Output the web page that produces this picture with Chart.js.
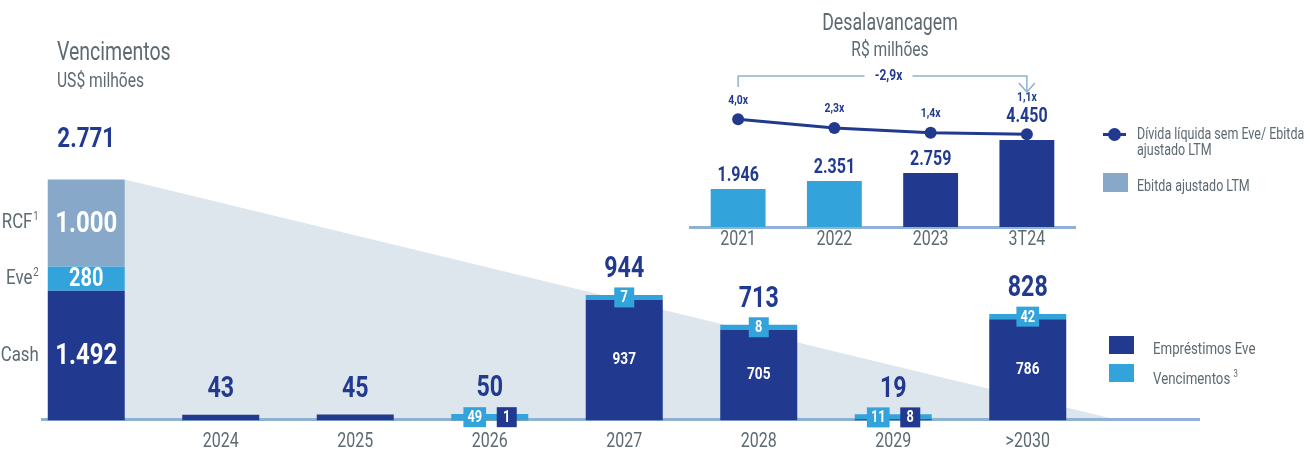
<!DOCTYPE html>
<html lang="pt-BR">
<head>
<meta charset="utf-8">
<title>Vencimentos e Desalavancagem</title>
<script src="https://cdn.jsdelivr.net/npm/chart.js@4.4.1/dist/chart.umd.min.js"></script>
<style>
  body { margin: 0; background: #fff; width: 1310px; height: 450px; overflow: hidden; position: relative;
         font-family: Roboto, 'Liberation Sans', sans-serif; color: #5d6a72; }
  canvas { position: absolute; top: 0; }
  #principal { left: 0; }
  #inset { left: 680px; }
  .txt { position: absolute; white-space: nowrap; transform: scaleX(0.78); transform-origin: 0 50%; }
  .meio { text-align: center; transform-origin: 50% 50%; }
  .quad { position: absolute; }
</style>
</head>
<body>
<canvas id="principal" width="1310" height="462"></canvas>
<canvas id="inset" width="420" height="255"></canvas>

<div class="txt" style="left:57px; top:37px; font-size:25px; line-height:30px;">Vencimentos</div>
<div class="txt" style="left:57px; top:68px; font-size:20px; line-height:24px;">US$ milhões</div>

<div class="txt meio" style="left:740px; width:300px; top:8px; font-size:24px; line-height:28px; transform: scaleX(0.74);">Desalavancagem</div>
<div class="txt meio" style="left:740px; width:300px; top:37px; font-size:20px; line-height:24px;">R$ milhões</div>

<!-- legenda do quadro de desalavancagem -->
<div class="quad" style="left:1103px; top:133px; width:23px; height:3px; background:#213a8f;"></div>
<div class="quad" style="left:1108px; top:128px; width:13px; height:13px; border-radius:50%; background:#213a8f;"></div>
<div class="txt" style="left:1137px; top:126px; font-size:16px; line-height:16px;">Dívida líquida sem Eve/ Ebitda<br>ajustado LTM</div>
<div class="quad" style="left:1103px; top:173px; width:25px; height:19px; background:#87a8c8;"></div>
<div class="txt" style="left:1137px; top:177px; font-size:16px; line-height:18px;">Ebitda ajustado LTM</div>

<!-- legenda dos vencimentos -->
<div class="quad" style="left:1109px; top:336px; width:25px; height:18px; background:#213a8f;"></div>
<div class="txt" style="left:1153px; top:339px; font-size:17px; line-height:18px;">Empréstimos Eve</div>
<div class="quad" style="left:1109px; top:364px; width:25px; height:18px; background:#33a3db;"></div>
<div class="txt" style="left:1153px; top:365px; font-size:17px; line-height:18px;">Vencimentos <sup style="font-size:10px;">3</sup></div>

<script>
// Vencimentos (US$ milhões)
const anos = ['', '2024', '2025', '2026', '2027', '2028', '2029', '>2030'];
const emprestimosEve = [null, 43, 45, 1, 937, 705, 8, 786];
const vencimentos = [null, null, null, 49, 7, 8, 11, 42];

// primeira barra: liquidez
const caixaRotulos = ['Cash', 'Eve²', 'RCF¹'];
const caixaValores = [1492, 280, 1000];
const caixaTotal = 2771;

// Desalavancagem (R$ milhões)
const periodos = ['2021', '2022', '2023', '3T24'];
const ebitda = [1946, 2351, 2759, 4450];
const alavancagem = [4.0, 2.3, 1.4, 1.1];
const variacao = -2.9;

const FONTE = "Roboto, 'Liberation Sans', sans-serif";
const ESTREITO = 0.8;   // a fonte original é condensada
const AZUL = '#213a8f';
const CLARO = '#33a3db';
const RCF = '#87a8c8';
const CINZA = '#5d6a72';
const LINHA = '#8fb2d2';
const SOMBRA = '#dde6ed';
const INVISIVEL = 'rgba(0,0,0,0)';
const SOBRESCRITO = { '¹': '1', '²': '2', '³': '3' };

Chart.defaults.font.family = FONTE;
Chart.defaults.color = CINZA;

function milhar(v) {
    return String(v).replace(/\B(?=(\d{3})+(?!\d))/g, '.');
}

function vezes(v) {
    return v.toFixed(1).replace('.', ',') + 'x';
}

function texto(ctx, s, x, y, cor, tam, peso, alinh) {
    ctx.save();
    ctx.font = (peso || 'bold') + ' ' + tam + 'px ' + FONTE;
    ctx.fillStyle = cor;
    ctx.textAlign = alinh || 'center';
    ctx.textBaseline = 'middle';
    ctx.translate(x, y);
    ctx.scale(ESTREITO, 1);
    ctx.fillText(s, 0, 0);
    ctx.restore();
}

// rótulo alinhado à direita com nota sobrescrita menor
function rotuloNota(ctx, s, x, y) {
    const nota = SOBRESCRITO[s.slice(-1)];
    if (!nota) {
        texto(ctx, s, x, y, CINZA, 21, 'normal', 'right');
        return;
    }
    ctx.save();
    ctx.font = 'normal 12px ' + FONTE;
    const w = ctx.measureText(nota).width * ESTREITO;
    ctx.restore();
    texto(ctx, nota, x, y - 6, CINZA, 12, 'normal', 'right');
    texto(ctx, s.slice(0, -1), x - w - 1, y, CINZA, 21, 'normal', 'right');
}

function caixa(ctx, s, x, y, cor) {
    ctx.save();
    ctx.font = 'bold 16px ' + FONTE;
    const w = Math.max(20, ctx.measureText(s).width * ESTREITO + 8);
    ctx.fillStyle = cor;
    ctx.fillRect(x - w / 2, y - 10, w, 20);
    ctx.restore();
    texto(ctx, s, x, y + 1, '#fff', 16);
}

// rótulos do eixo x (posições da escala, fonte condensada)
function rotulosEixo(chart, desce, tam) {
    const esc = chart.scales.x;
    esc.ticks.forEach((t, i) => {
        texto(chart.ctx, t.label, esc.getPixelForTick(i), chart.chartArea.bottom + desce, CINZA, tam, 'normal');
    });
}

// triângulo de fundo e linha base
const sombraPlugin = {
    id: 'sombra',
    beforeDatasetsDraw(chart) {
        const ctx = chart.ctx;
        const area = chart.chartArea;
        const topo = chart.getDatasetMeta(2).data[0];
        const base = chart.scales.y.getPixelForValue(0);
        const xDir = topo.x + topo.width / 2;
        ctx.save();
        ctx.fillStyle = SOMBRA;
        ctx.beginPath();
        ctx.moveTo(xDir, topo.y);
        ctx.lineTo(area.right + 25, base);
        ctx.lineTo(xDir, base);
        ctx.closePath();
        ctx.fill();
        ctx.strokeStyle = LINHA;
        ctx.lineWidth = 3;
        ctx.beginPath();
        ctx.moveTo(area.left + 22, base - 1);
        ctx.lineTo(chart.width - 110, base - 1);
        ctx.stroke();
        ctx.restore();
    }
};

// rótulos das barras de vencimento
const rotulosPlugin = {
    id: 'rotulos',
    afterDatasetsDraw(chart) {
        const ctx = chart.ctx;
        const segs = [0, 1, 2].map(i => chart.getDatasetMeta(i).data[0]);
        segs.forEach((el, k) => {
            const meio = (el.y + el.base) / 2;
            texto(ctx, milhar(caixaValores[k]), el.x, meio + 1, '#fff', k === 1 ? 25 : 30);
            rotuloNota(ctx, caixaRotulos[k], el.x - el.width / 2 - 9, meio);
        });
        texto(ctx, milhar(caixaTotal), segs[0].x, segs[2].y - 40, AZUL, 28);

        for (let i = 1; i < anos.length; i++) {
            const eA = chart.getDatasetMeta(3).data[i];
            const eC = chart.getDatasetMeta(4).data[i];
            const a = emprestimosEve[i];
            const c = vencimentos[i];
            const temC = c !== null;
            const topo = temC ? eC.y : eA.y;
            texto(ctx, milhar(a + (c || 0)), eA.x, topo - 25, AZUL, 29);
            if (!temC) continue;
            if (a >= 100) {
                texto(ctx, milhar(a), eA.x, (eA.y + eA.base) / 2, '#fff', 17);
                caixa(ctx, milhar(c), eC.x, (eC.y + eC.base) / 2, CLARO);
            } else {
                const y = (eC.y + eA.base) / 2;
                caixa(ctx, milhar(c), eA.x - 15, y, CLARO);
                caixa(ctx, milhar(a), eA.x + 17, y, AZUL);
            }
        }
        rotulosEixo(chart, 22, 20);
    }
};

// rótulos e chave do quadro de desalavancagem
const insetPlugin = {
    id: 'desalav',
    afterDatasetsDraw(chart) {
        const ctx = chart.ctx;
        const barras = chart.getDatasetMeta(0).data;
        const pontos = chart.getDatasetMeta(1).data;
        barras.forEach((el, i) => {
            const p = pontos[i];
            let yValor = el.y - 13;
            let yRazao = p.y - 19;
            if (el.y - p.y < 20) {
                yValor = p.y - 17;
                yRazao = yValor - 20;
            }
            texto(ctx, milhar(ebitda[i]), el.x, yValor, AZUL, 20);
            texto(ctx, vezes(alavancagem[i]), p.x, yRazao, AZUL, 13);
        });

        const x0 = pontos[0].x;
        const x1 = pontos[pontos.length - 1].x;
        const meio = (x0 + x1) / 2 + 6;
        const yb = chart.chartArea.top - 24;
        ctx.save();
        ctx.strokeStyle = LINHA;
        ctx.lineWidth = 1.5;
        ctx.beginPath();
        ctx.moveTo(x0, yb + 11);
        ctx.lineTo(x0, yb);
        ctx.lineTo(meio - 24, yb);
        ctx.moveTo(meio + 24, yb);
        ctx.lineTo(x1, yb);
        ctx.lineTo(x1, yb + 16);
        ctx.moveTo(x1 - 8, yb + 7);
        ctx.lineTo(x1, yb + 16);
        ctx.lineTo(x1 + 8, yb + 7);
        ctx.stroke();
        ctx.restore();
        texto(ctx, vezes(variacao), meio, yb, AZUL, 15);
        rotulosEixo(chart, 13, 20);
    }
};

const soPrimeira = v => anos.map((_, i) => (i === 0 ? v : null));

new Chart(document.getElementById('principal'), {
    type: 'bar',
    data: {
        labels: anos,
        datasets: [
            { label: caixaRotulos[0], data: soPrimeira(caixaValores[0]), backgroundColor: AZUL, yAxisID: 'y2', stack: 'caixa' },
            { label: caixaRotulos[1], data: soPrimeira(caixaValores[1]), backgroundColor: CLARO, yAxisID: 'y2', stack: 'caixa' },
            { label: caixaRotulos[2], data: soPrimeira(caixaValores[2]), backgroundColor: RCF, yAxisID: 'y2', stack: 'caixa' },
            { label: 'Empréstimos Eve', data: emprestimosEve, backgroundColor: AZUL, stack: 'venc' },
            { label: 'Vencimentos', data: vencimentos, backgroundColor: CLARO, stack: 'venc', minBarLength: 5 }
        ]
    },
    options: {
        responsive: false,
        animation: false,
        devicePixelRatio: 1,
        datasets: { bar: { grouped: false, barPercentage: 0.5725, categoryPercentage: 1 } },
        layout: { padding: { left: 19, right: 215, top: 99, bottom: 0 } },
        plugins: { legend: { display: false }, tooltip: { enabled: false } },
        scales: {
            x: {
                stacked: true,
                grid: { display: false, drawTicks: false },
                border: { display: false },
                ticks: { color: INVISIVEL, font: { size: 18 }, padding: 10 }
            },
            y: { display: false, stacked: true, min: 0, max: 2500 },
            y2: { display: false, stacked: true, min: 0, max: 3700 }
        }
    },
    plugins: [sombraPlugin, rotulosPlugin]
});

new Chart(document.getElementById('inset'), {
    data: {
        labels: periodos,
        datasets: [
            { type: 'bar', label: 'Ebitda ajustado LTM', data: ebitda, backgroundColor: [CLARO, CLARO, AZUL, AZUL],
              barPercentage: 0.57, categoryPercentage: 1, order: 2 },
            { type: 'line', label: 'Dívida líquida sem Eve/ Ebitda ajustado LTM', data: alavancagem, yAxisID: 'y2',
              borderColor: AZUL, borderWidth: 3, pointRadius: 6, pointBackgroundColor: AZUL, pointBorderWidth: 0, order: 1 }
        ]
    },
    options: {
        responsive: false,
        animation: false,
        devicePixelRatio: 1,
        layout: { padding: { left: 10, right: 25, top: 100, bottom: 0 } },
        plugins: { legend: { display: false }, tooltip: { enabled: false } },
        scales: {
            x: {
                grid: { display: false, drawTicks: false },
                border: { display: true, color: LINHA, width: 3 },
                ticks: { color: INVISIVEL, font: { size: 20 }, padding: 2 }
            },
            y: { display: false, min: 0, max: 6500 },
            y2: { display: false, min: -16.7, max: 7.7 }
        }
    },
    plugins: [insetPlugin]
});
</script>
</body>
</html>
